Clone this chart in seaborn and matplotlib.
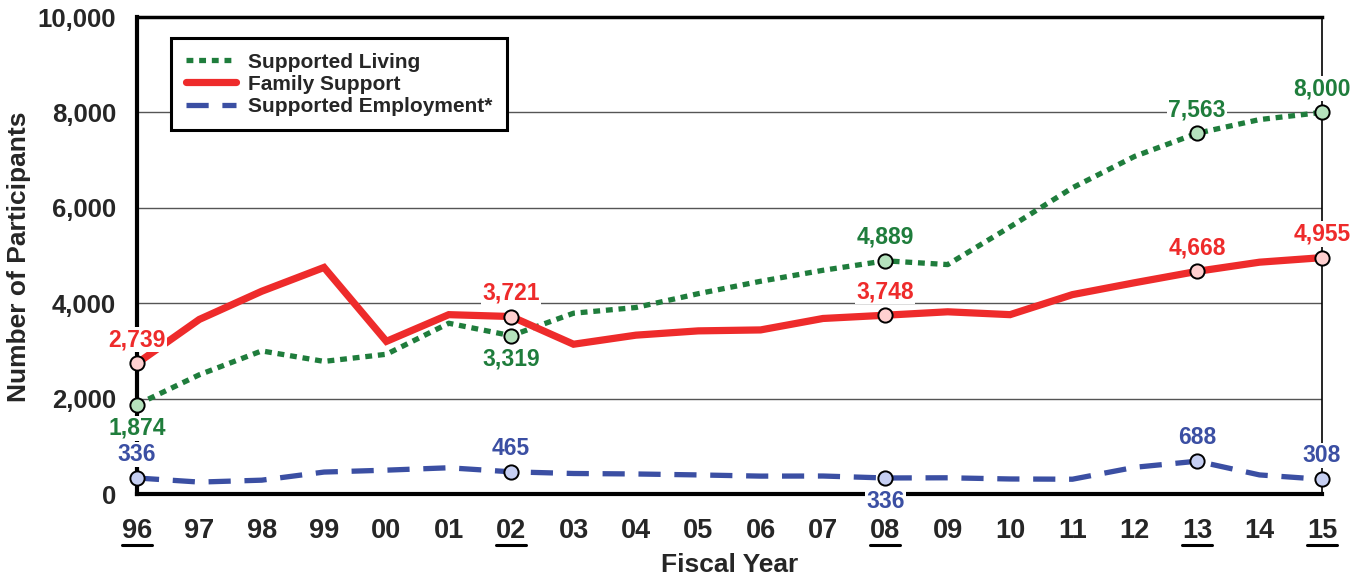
import pandas as pd
import seaborn as sns
import matplotlib.pyplot as plt
from matplotlib.lines import Line2D

years = ['96', '97', '98', '99', '00', '01', '02', '03', '04', '05',
         '06', '07', '08', '09', '10', '11', '12', '13', '14', '15']
supported_living = [1874, 2500, 3000, 2780, 2930, 3580, 3319, 3790, 3910, 4200,
                    4460, 4690, 4889, 4810, 5600, 6420, 7080, 7563, 7850, 8000]
family_support = [2739, 3660, 4250, 4750, 3200, 3760, 3721, 3140, 3330, 3420,
                  3440, 3680, 3748, 3820, 3760, 4180, 4430, 4668, 4860, 4955]
supported_employment = [336, 250, 290, 460, 500, 550, 465, 430, 420, 400,
                        375, 377, 336, 340, 315, 310, 560, 688, 400, 308]

# labelled years and whether each series' label sits above (+1) or below (-1)
label_years = ['96', '02', '08', '13', '15']
living_side = [-1, -1, 1, 1, 1]
family_side = [1, 1, 1, 1, 1]
employment_side = [1, 1, -1, 1, 1]

series = [
    ('Supported Living', supported_living, '#1f7d3c', '#b5e2bd', (0, (1.3, 1.1)), 3.8, living_side),
    ('Family Support', family_support, '#ee2b2b', '#ffd0d0', '-', 5.2, family_side),
    ('Supported Employment*', supported_employment, '#3b4fa3', '#c6cff2', (0, (4.2, 2.6)), 3.8, employment_side),
]

sns.set_style('white')
plt.rcParams['font.family'] = ['Liberation Sans', 'DejaVu Sans']
plt.rcParams['font.weight'] = 'bold'

fig = plt.figure(figsize=(13.68, 5.79), dpi=100)
ax = fig.add_axes([0.1001, 0.1468, 0.8662, 0.8238])

pos = list(range(len(years)))
label_pos = [years.index(y) for y in label_years]

handles = []
for name, vals, color, light, ls, lw, sides in series:
    df = pd.DataFrame({'pos': pos, 'value': vals})
    sns.lineplot(data=df, x='pos', y='value', ax=ax, color=color, linewidth=lw,
                 linestyle=ls, dash_capstyle='butt', solid_joinstyle='miter', zorder=3,
                 clip_on=False)
    sub = df.iloc[label_pos]
    sns.scatterplot(data=sub, x='pos', y='value', ax=ax, color=light, edgecolor='black',
                    linewidth=1.4, s=105, zorder=6, clip_on=False)
    for (_, row), side in zip(sub.iterrows(), sides):
        ax.annotate(f"{int(row['value']):,}", (row['pos'], row['value']),
                    xytext=(0, 17 * side), textcoords='offset points',
                    ha='center', va='center', fontsize=16.5, fontweight='bold', color=color,
                    bbox=dict(boxstyle='square,pad=0.05', facecolor='white', edgecolor='none'),
                    zorder=5, annotation_clip=False)
    handles.append(Line2D([], [], color=color, linewidth=lw, linestyle=ls,
                          dash_capstyle='butt', label=name))

ax.set_xlim(0, len(years) - 1)
ax.set_ylim(0, 10000)
ax.set_yticks(range(0, 10001, 2000))
ax.set_yticklabels([f'{v:,}' for v in range(0, 10001, 2000)], fontsize=18.5, fontweight='bold')
ax.set_xticks(pos)
ax.set_xticklabels(years, fontsize=19.5, fontweight='bold')
ax.tick_params(axis='x', direction='in', length=12, width=1, color='#555555', pad=17)
ax.tick_params(axis='y', direction='in', length=12, width=1.5, color='black', pad=15)
ax.grid(axis='y', color='#555555', linewidth=1)
ax.set_axisbelow(True)

for side, w in [('left', 3), ('bottom', 3), ('top', 2.5), ('right', 1.2)]:
    ax.spines[side].set_visible(True)
    ax.spines[side].set_color('black')
    ax.spines[side].set_linewidth(w)

ax.set_xlabel('Fiscal Year', fontsize=19, fontweight='bold', va='center')
ax.set_ylabel('Number of Participants', fontsize=19, fontweight='bold', va='center')
ax.xaxis.set_label_coords(0.5, -0.1485)
ax.yaxis.set_label_coords(-0.0996, 0.498)

leg = ax.legend(handles=handles, loc='upper left', bbox_to_anchor=(0.0287, 0.956),
                borderaxespad=0, fontsize=15, frameon=True, fancybox=False,
                handlelength=2.4, labelspacing=0.15, borderpad=0.7, handletextpad=0.6)
leg.get_frame().set_edgecolor('black')
leg.get_frame().set_linewidth(2.2)
leg.get_frame().set_alpha(1)
for t in leg.get_texts():
    t.set_fontweight('bold')

# underline the highlighted year labels
fig.canvas.draw()
renderer = fig.canvas.get_renderer()
for lbl in ax.get_xticklabels():
    if lbl.get_text() in label_years:
        bb = lbl.get_window_extent(renderer)
        ul = bb.y0 - 1
        fig.add_artist(Line2D([bb.x0, bb.x1], [ul, ul], color='black', linewidth=2.2,
                              transform=None))

fig.savefig('out.png', dpi=100)
